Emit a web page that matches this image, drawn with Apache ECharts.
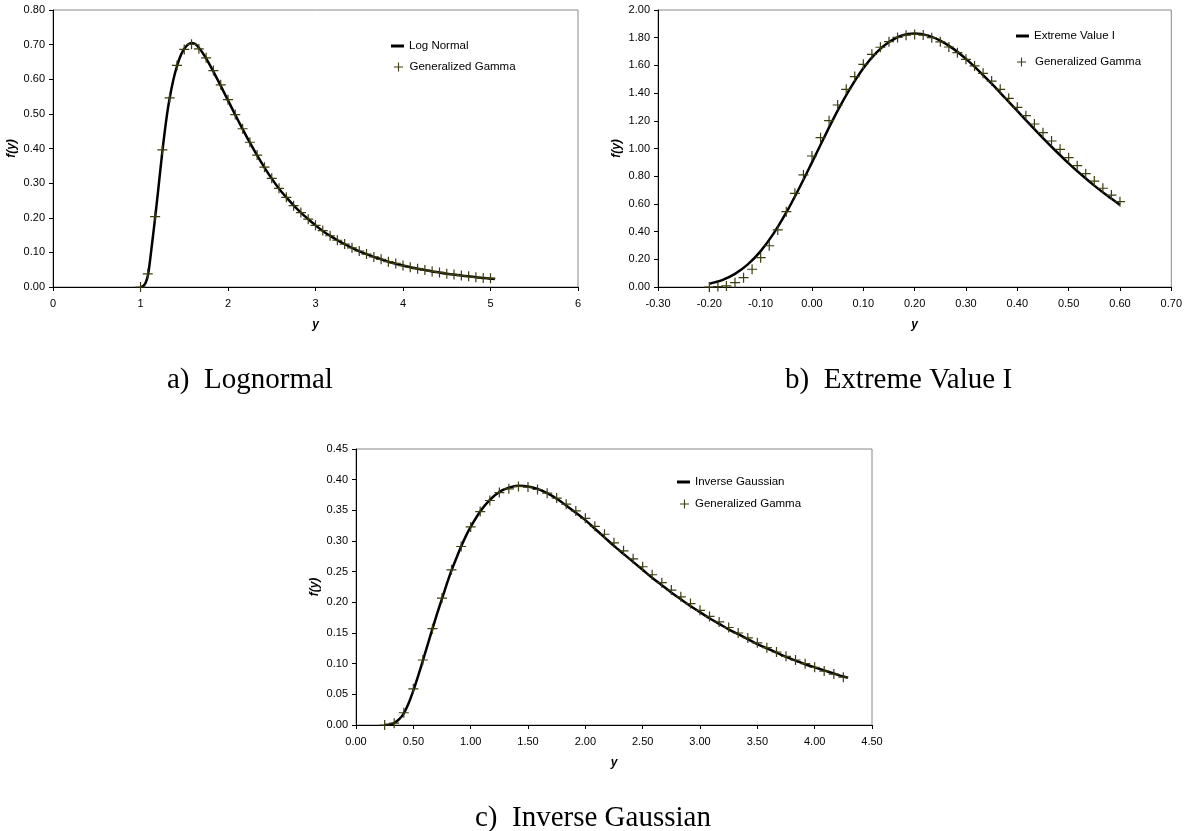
<!DOCTYPE html>
<html>
<head>
<meta charset="utf-8">
<script src="https://cdn.jsdelivr.net/npm/echarts@6/dist/echarts.min.js"></script>
<style>
html,body{margin:0;padding:0;background:#fff;}
#chart{width:1185px;height:831px;}
</style>
</head>
<body>
<div id="chart"></div>
<script>
// ---- Chart a: Lognormal ----
const lnX = [1.000,1.020,1.040,1.060,1.083,1.100,1.125,1.150,1.167,1.200,1.250,1.300,1.333,1.375,1.417,1.458,1.500,1.542,1.583,1.625,1.667,1.708,1.750,1.833,1.917,2.000,2.083,2.167,2.250,2.333,2.417,2.500,2.583,2.667,2.750,2.833,2.917,3.000,3.083,3.167,3.250,3.333,3.417,3.500,3.583,3.667,3.750,3.833,3.917,4.000,4.083,4.167,4.250,4.333,4.417,4.500,4.583,4.667,4.750,4.833,4.917,5.000,5.050];
const lnY = [0.000,0.001,0.005,0.013,0.032,0.058,0.110,0.163,0.200,0.275,0.392,0.493,0.545,0.598,0.638,0.668,0.688,0.700,0.705,0.702,0.691,0.677,0.660,0.622,0.581,0.539,0.497,0.456,0.417,0.380,0.345,0.313,0.284,0.259,0.236,0.215,0.196,0.178,0.162,0.148,0.135,0.124,0.113,0.103,0.095,0.087,0.080,0.073,0.067,0.062,0.057,0.053,0.049,0.045,0.042,0.038,0.036,0.033,0.031,0.028,0.026,0.024,0.023];
const ggAX = [1,1.083,1.167,1.25,1.333,1.417,1.5,1.583,1.667,1.75,1.833,1.917,2,2.083,2.167,2.25,2.333,2.417,2.5,2.583,2.667,2.75,2.833,2.917,3,3.083,3.167,3.25,3.333,3.417,3.5,3.583,3.667,3.75,3.833,3.917,4,4.083,4.167,4.25,4.333,4.417,4.5,4.583,4.667,4.75,4.833,4.917,5];
const ggAY = [0.000,0.038,0.203,0.396,0.546,0.640,0.686,0.701,0.688,0.662,0.625,0.584,0.541,0.498,0.457,0.418,0.381,0.346,0.314,0.285,0.259,0.235,0.215,0.196,0.178,0.163,0.148,0.135,0.124,0.113,0.104,0.095,0.087,0.080,0.073,0.068,0.062,0.057,0.053,0.049,0.045,0.042,0.038,0.036,0.033,0.031,0.028,0.026,0.025];

// ---- Chart b: Extreme Value I ----
const evX = [-0.2,-0.175,-0.15,-0.125,-0.1,-0.075,-0.05,-0.025,0,0.025,0.05,0.075,0.1,0.125,0.15,0.175,0.2,0.225,0.25,0.275,0.3,0.325,0.35,0.375,0.4,0.425,0.45,0.475,0.5,0.525,0.55,0.575,0.6];
const evY = [0.024,0.050,0.095,0.163,0.259,0.385,0.538,0.713,0.900,1.090,1.273,1.438,1.580,1.691,1.769,1.816,1.830,1.817,1.779,1.721,1.647,1.561,1.468,1.370,1.271,1.172,1.075,0.982,0.893,0.810,0.732,0.660,0.593];
const ggBX = [-0.2,-0.1833,-0.1667,-0.15,-0.1333,-0.1167,-0.1,-0.0833,-0.0667,-0.05,-0.0333,-0.0167,0,0.0167,0.0333,0.05,0.0667,0.0833,0.1,0.1167,0.1333,0.15,0.1667,0.1833,0.2,0.2167,0.2333,0.25,0.2667,0.2833,0.3,0.3167,0.3333,0.35,0.3667,0.3833,0.4,0.4167,0.4333,0.45,0.4667,0.4833,0.5,0.5167,0.5333,0.55,0.5667,0.5833,0.6];
const ggBY = [0.000,0.003,0.008,0.031,0.067,0.128,0.212,0.298,0.412,0.544,0.676,0.809,0.946,1.078,1.201,1.314,1.427,1.519,1.608,1.680,1.731,1.771,1.802,1.818,1.824,1.819,1.800,1.770,1.733,1.692,1.644,1.596,1.543,1.487,1.427,1.362,1.297,1.237,1.177,1.114,1.054,0.994,0.934,0.876,0.818,0.765,0.713,0.664,0.616];

// ---- Chart c: Inverse Gaussian ----
const igX = [0.25,0.30,0.333,0.375,0.417,0.458,0.50,0.542,0.583,0.625,0.667,0.708,0.75,0.792,0.833,0.875,0.917,0.958,1.0,1.083,1.167,1.25,1.333,1.417,1.5,1.583,1.667,1.75,1.833,1.917,2.0,2.083,2.167,2.25,2.333,2.417,2.5,2.583,2.667,2.75,2.833,2.917,3.0,3.083,3.167,3.25,3.333,3.417,3.5,3.583,3.667,3.75,3.833,3.917,4.0,4.083,4.167,4.25,4.29];
const igY = [0.000,0.001,0.003,0.009,0.019,0.035,0.056,0.080,0.105,0.131,0.157,0.182,0.206,0.230,0.252,0.272,0.291,0.308,0.323,0.348,0.367,0.380,0.387,0.390,0.389,0.385,0.378,0.369,0.358,0.346,0.334,0.320,0.306,0.292,0.279,0.266,0.253,0.240,0.228,0.216,0.205,0.194,0.184,0.174,0.165,0.156,0.148,0.140,0.132,0.125,0.118,0.111,0.105,0.099,0.094,0.089,0.084,0.079,0.077];
const ggCX = [0.25,0.333,0.417,0.5,0.583,0.667,0.75,0.833,0.917,1,1.083,1.167,1.25,1.333,1.417,1.5,1.583,1.667,1.75,1.833,1.917,2,2.083,2.167,2.25,2.333,2.417,2.5,2.583,2.667,2.75,2.833,2.917,3,3.083,3.167,3.25,3.333,3.417,3.5,3.583,3.667,3.75,3.833,3.917,4,4.083,4.167,4.25];
const ggCY = [0.000,0.003,0.020,0.059,0.106,0.157,0.207,0.253,0.291,0.323,0.348,0.366,0.379,0.385,0.389,0.388,0.384,0.378,0.370,0.360,0.349,0.337,0.324,0.311,0.297,0.284,0.271,0.258,0.245,0.232,0.220,0.209,0.198,0.187,0.177,0.168,0.159,0.150,0.142,0.134,0.126,0.119,0.112,0.106,0.100,0.094,0.088,0.083,0.078];

// axis ranges [min, max, interval]
const xRangeA = [0, 6, 1], yRangeA = [0, 0.8, 0.1];
const xRangeB = [-0.3, 0.7, 0.1], yRangeB = [0, 2, 0.2];
const xRangeC = [0, 4.5, 0.5], yRangeC = [0, 0.45, 0.05];

const seriesNames = ['Log Normal', 'Extreme Value I', 'Inverse Gaussian', 'Generalized Gamma'];
const titles = ['a)  Lognormal', 'b)  Extreme Value I', 'c)  Inverse Gaussian'];

const zip = (xs, ys) => xs.map((x, i) => [x, ys[i]]);
const PLUS = 'path://M4.4,0H5.6V4.4H10V5.6H5.6V10H4.4V5.6H0V4.4H4.4Z';
const MARK = '#3d3d10';
const SANS = 'Liberation Sans, Arial, sans-serif';
const SERIF = '"Liberation Serif", "Times New Roman", serif';

function xAx(idx, r, dec) {
  return {
    type: 'value', gridIndex: idx, min: r[0], max: r[1], interval: r[2],
    axisLine: { onZero: false, lineStyle: { color: '#000', width: 1 } },
    axisTick: { length: 4, lineStyle: { color: '#000' } },
    axisLabel: { color: '#000', fontSize: 11, fontFamily: SANS, margin: 11, showMinLabel: true, showMaxLabel: true,
      formatter: v => v.toFixed(dec) },
    splitLine: { show: false },
    name: 'y', nameLocation: 'middle', nameGap: 32,
    nameTextStyle: { fontStyle: 'italic', fontWeight: 'bold', fontSize: 12, color: '#000', fontFamily: SANS }
  };
}
function yAx(idx, r) {
  return {
    type: 'value', gridIndex: idx, min: r[0], max: r[1], interval: r[2],
    axisLine: { show: true, onZero: false, lineStyle: { color: '#000', width: 1 } },
    axisTick: { show: true, length: 4, lineStyle: { color: '#000' } },
    axisLabel: { color: '#000', fontSize: 11, fontFamily: SANS, margin: 8, showMinLabel: true, showMaxLabel: true,
      formatter: v => v.toFixed(2) },
    splitLine: { show: false },
    name: 'f(y)', nameLocation: 'middle', nameGap: 35,
    nameTextStyle: { fontStyle: 'italic', fontWeight: 'bold', fontSize: 12, color: '#000', fontFamily: SANS }
  };
}
function lineS(name, idx, xs, ys) {
  return { type: 'line', name: name, xAxisIndex: idx, yAxisIndex: idx, data: zip(xs, ys),
    showSymbol: false, symbol: 'none', smooth: 0.3, color: '#000',
    lineStyle: { color: '#000', width: 2.5 }, z: 2, animation: false };
}
function scatS(name, idx, xs, ys) {
  return { type: 'scatter', name: name, xAxisIndex: idx, yAxisIndex: idx, data: zip(xs, ys),
    symbol: PLUS, symbolSize: 10, color: MARK, itemStyle: { color: MARK, opacity: 1 }, z: 3, animation: false };
}
function legLine(name, left, top) {
  return { data: [{ name: name, icon: 'rect' }], left: left, top: top, orient: 'vertical',
    itemWidth: 13, itemHeight: 3, padding: 0, selectedMode: false,
    textStyle: { fontSize: 11.5, fontFamily: SANS, color: '#000' } };
}
function legPlus(name, left, top, pad) {
  return { data: [{ name: name, icon: PLUS }], left: left, top: top, orient: 'vertical',
    itemWidth: 9, itemHeight: 9, padding: 0, selectedMode: false,
    textStyle: { fontSize: 11.5, fontFamily: SANS, color: '#000', padding: [0, 0, 0, pad] } };
}

const chart = echarts.init(document.getElementById('chart'), null, { renderer: 'canvas' });
const gridStyle = { show: true, borderColor: '#888', borderWidth: 1, containLabel: false };
chart.setOption({
  backgroundColor: '#fff',
  animation: false,
  grid: [
    Object.assign({ left: 53, top: 10, width: 525, height: 277 }, gridStyle),
    Object.assign({ left: 658, top: 10, width: 514, height: 277 }, gridStyle),
    Object.assign({ left: 356, top: 449, width: 516, height: 276 }, gridStyle)
  ],
  xAxis: [xAx(0, xRangeA, 0), xAx(1, xRangeB, 2), xAx(2, xRangeC, 2)],
  yAxis: [yAx(0, yRangeA), yAx(1, yRangeB), yAx(2, yRangeC)],
  legend: [
    legLine(seriesNames[0], 391, 40),
    legPlus(seriesNames[3], 394, 61, 1.5),
    legLine(seriesNames[1], 1016, 30),
    legPlus(seriesNames[3], 1017, 56, 4),
    legLine(seriesNames[2], 677, 476),
    legPlus(seriesNames[3], 680, 498, 1)
  ],
  series: [
    lineS(seriesNames[0], 0, lnX, lnY),
    scatS(seriesNames[3], 0, ggAX, ggAY),
    lineS(seriesNames[1], 1, evX, evY),
    scatS(seriesNames[3], 1, ggBX, ggBY),
    lineS(seriesNames[2], 2, igX, igY),
    scatS(seriesNames[3], 2, ggCX, ggCY)
  ],
  graphic: [
    { type: 'text', left: 167, top: 366, style: { text: titles[0], font: '29px ' + SERIF, fill: '#000' } },
    { type: 'text', left: 785, top: 366, style: { text: titles[1], font: '29px ' + SERIF, fill: '#000' } },
    { type: 'text', left: 475, top: 804, style: { text: titles[2], font: '29px ' + SERIF, fill: '#000' } }
  ]
});
</script>
</body>
</html>
